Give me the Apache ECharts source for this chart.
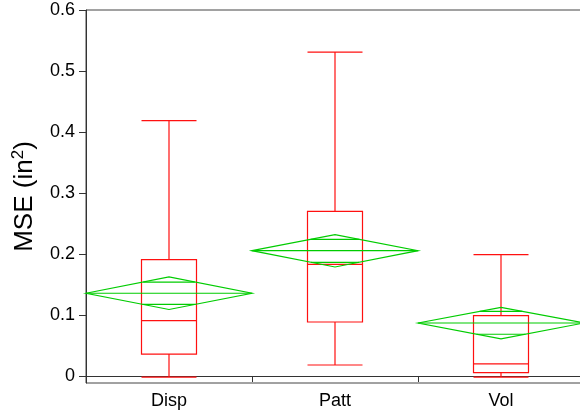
<!DOCTYPE html>
<html>
<head>
<meta charset="utf-8">
<script src="https://cdn.jsdelivr.net/npm/echarts@6/dist/echarts.min.js"></script>
<style>
  html, body { margin: 0; padding: 0; background: #fff; }
  #chart { width: 580px; height: 414px; }
</style>
</head>
<body>
<div id="chart"></div>
<script>
var categories = ['Disp', 'Patt', 'Vol'];

// box plot (quantiles)
var whiskerLow = [-0.002, 0.018, -0.002];
var q1 = [0.036, 0.0885, 0.0055];
var median = [0.0907, 0.183, 0.0197];
var q3 = [0.1907, 0.270, 0.0989];
var whiskerHigh = [0.4186, 0.531, 0.199];

// means diamonds
var means = [0.1356, 0.2054, 0.0869];
var ciUpper = [0.1623, 0.2317, 0.1126];
var ciLower = [0.109, 0.1787, 0.0607];
var overlapUpper = [0.154, 0.224, 0.106];
var overlapLower = [0.1175, 0.1864, 0.0684];

var yTicks = [0, 0.1, 0.2, 0.3, 0.4, 0.5, 0.6];

var red = '#ff1010';
var green = '#00cc00';
var font = 'Liberation Sans, Arial, sans-serif';

var boxData = categories.map(function (c, i) {
    return [whiskerLow[i], q1[i], median[i], q3[i], whiskerHigh[i]];
});
var diamondData = categories.map(function (c, i) {
    return [i, means[i], ciUpper[i], ciLower[i], overlapUpper[i], overlapLower[i]];
});

var chart = echarts.init(document.getElementById('chart'));

chart.setOption({
    animation: false,
    grid: {
        left: 86, width: 498, top: 10, bottom: 31,
        outerBoundsMode: 'none',
        containLabel: false,
        show: true, borderColor: '#444', borderWidth: 1
    },
    xAxis: {
        type: 'category',
        data: categories,
        axisLine: { lineStyle: { color: '#333', width: 1 } },
        axisTick: { show: true, length: 6, lineStyle: { color: '#333' } },
        axisLabel: { color: '#000', fontSize: 18, fontFamily: font, margin: 9 },
        splitLine: { show: false }
    },
    yAxis: {
        type: 'value',
        min: -0.0115,
        max: 0.6,
        name: '{a|MSE (in}{s|2}{a|)}',
        nameLocation: 'middle',
        nameGap: 48,
        nameTextStyle: {
            rich: {
                a: { fontSize: 26, fontFamily: font, color: '#000', verticalAlign: 'bottom', lineHeight: 29 },
                s: { fontSize: 17, fontFamily: font, color: '#000', verticalAlign: 'bottom', lineHeight: 29, padding: [0, 0, 11, 0] }
            }
        },
        axisLine: { show: true, lineStyle: { color: '#333', width: 1 } },
        axisTick: { show: true, length: 7, customValues: yTicks, lineStyle: { color: '#333' } },
        axisLabel: {
            customValues: yTicks,
            color: '#000', fontSize: 18, fontFamily: font, margin: 11,
            formatter: function (v) { return v === 0 ? '0' : v.toFixed(1); }
        },
        splitLine: { show: false }
    },
    series: [
        {
            type: 'boxplot',
            data: boxData,
            boxWidth: [55, 55],
            itemStyle: { color: 'rgba(0,0,0,0)', borderColor: red, borderWidth: 1.2 },
            emphasis: { disabled: true },
            silent: true,
            z: 2
        },
        {
            type: 'custom',
            data: diamondData,
            silent: true,
            clip: false,
            z: 3,
            renderItem: function (params, api) {
                var idx = api.value(0);
                var c = api.coord([idx, api.value(1)]);
                var top = api.coord([idx, api.value(2)]);
                var bot = api.coord([idx, api.value(3)]);
                var ovU = api.coord([idx, api.value(4)]);
                var ovL = api.coord([idx, api.value(5)]);
                var half = api.size([1, 0])[0] / 2;
                var style = { stroke: green, fill: null, lineWidth: 1.2 };
                function ovLine(p, tip) {
                    var f = 1 - Math.abs(p[1] - c[1]) / Math.abs(tip[1] - c[1]);
                    var w = half * f;
                    return { type: 'line', shape: { x1: c[0] - w, y1: p[1], x2: c[0] + w, y2: p[1] }, style: style };
                }
                return {
                    type: 'group',
                    children: [
                        {
                            type: 'polygon',
                            shape: { points: [[c[0] - half, c[1]], [c[0], top[1]], [c[0] + half, c[1]], [c[0], bot[1]]] },
                            style: style
                        },
                        { type: 'line', shape: { x1: c[0] - half, y1: c[1], x2: c[0] + half, y2: c[1] }, style: style },
                        ovLine(ovU, top),
                        ovLine(ovL, bot)
                    ]
                };
            }
        }
    ]
});
</script>
</body>
</html>
